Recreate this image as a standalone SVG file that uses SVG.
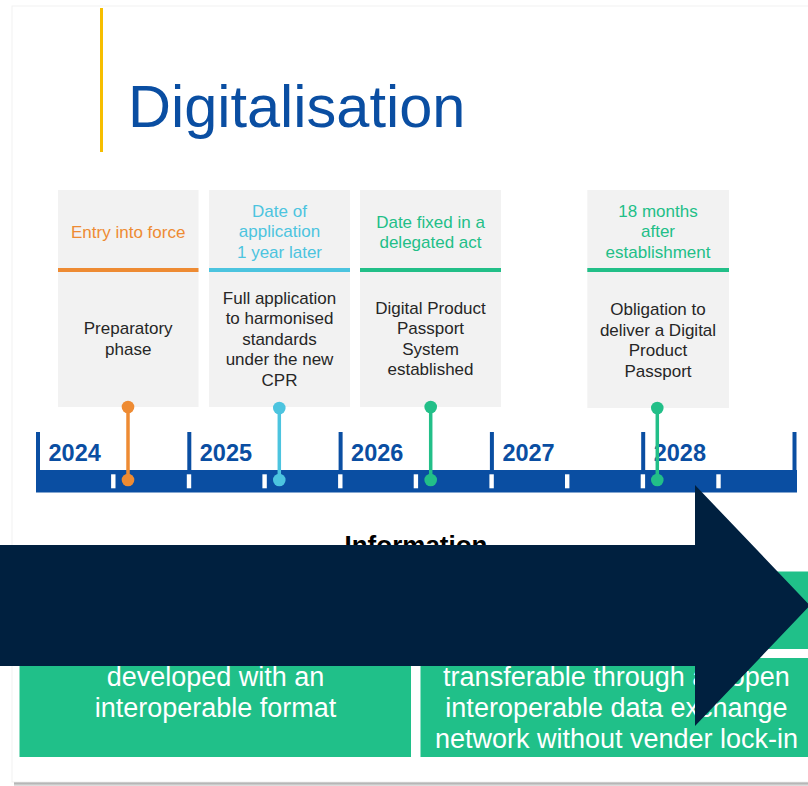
<svg xmlns="http://www.w3.org/2000/svg" width="808" height="786" viewBox="0 0 808 786">
<defs>
<linearGradient id="shadow" x1="0" y1="0" x2="0" y2="1">
<stop offset="0" stop-color="#9a9a9a"/>
<stop offset="1" stop-color="#e6e6e6"/>
</linearGradient>
<style>
text{font-family:"Liberation Sans",Arial,"Noto Sans",sans-serif;text-anchor:middle}
.box{fill:#f2f2f2}
.hd{font-size:17px}
.body{font-size:17px;fill:#262626}
.year{font-size:23.5px;font-weight:bold;fill:#0a4ea2;text-anchor:start}
.div{fill:#0a4ea2}
.tick{fill:#ffffff}
.orange{fill:#ee8b33}
.blue{fill:#4cc4df}
.green{fill:#22bf88}
.stem{stroke-width:3.5;fill:none}
.gbox{fill:#20c089}
.gtxt{font-size:27px;fill:#ffffff}
</style>
</defs>
<rect x="0" y="0" width="808" height="786" fill="#ffffff"/>
<rect x="14" y="782" width="800" height="4" fill="url(#shadow)"/>
<rect x="12" y="6" width="800" height="776" fill="#ffffff" stroke="#f1f1f1" stroke-width="1"/>

<g id="title">
<rect x="100" y="8" width="3" height="144" fill="#f6be00"/>
<text x="128" y="126.7" style="font-size:59.5px;fill:#0a4ea2;text-anchor:start">Digitalisation</text>
</g>

<g id="timeline">
<rect x="36" y="470" width="761" height="22.5" fill="#0a4ea2"/>
<rect class="div" x="36" y="432" width="4" height="40"/>
<rect class="div" x="187.3" y="432" width="4" height="40"/>
<rect class="div" x="338.6" y="432" width="4" height="40"/>
<rect class="div" x="489.9" y="432" width="4" height="40"/>
<rect class="div" x="641.2" y="432" width="4" height="40"/>
<rect class="div" x="792.5" y="432" width="4" height="40"/>
<rect class="tick" x="111.1" y="474.3" width="4.4" height="14"/>
<rect class="tick" x="186.8" y="474.3" width="4.4" height="14"/>
<rect class="tick" x="262.4" y="474.3" width="4.4" height="14"/>
<rect class="tick" x="338.1" y="474.3" width="4.4" height="14"/>
<rect class="tick" x="413.7" y="474.3" width="4.4" height="14"/>
<rect class="tick" x="489.4" y="474.3" width="4.4" height="14"/>
<rect class="tick" x="565" y="474.3" width="4.4" height="14"/>
<rect class="tick" x="640.7" y="474.3" width="4.4" height="14"/>
<rect class="tick" x="716.3" y="474.3" width="4.4" height="14"/>
<text class="year" x="48.5" y="461">2024</text>
<text class="year" x="199.8" y="461">2025</text>
<text class="year" x="351.1" y="461">2026</text>
<text class="year" x="502.4" y="461">2027</text>
<text class="year" x="653.7" y="461">2028</text>
</g>

<g id="node-entry">
<rect class="box" x="58" y="190" width="140.5" height="217"/>
<rect class="orange" x="58" y="268" width="140.5" height="4"/>
<text class="hd" x="128.2" y="237.5" fill="#ee8b33">Entry into force</text>
<text class="body" x="128.2" y="334">Preparatory</text>
<text class="body" x="128.2" y="354.5">phase</text>
</g>

<g id="node-application">
<rect class="box" x="209" y="190" width="141" height="217"/>
<rect class="blue" x="209" y="268" width="141" height="4"/>
<text class="hd" x="279.5" y="216.5" fill="#4cc4df">Date of</text>
<text class="hd" x="279.5" y="237" fill="#4cc4df">application</text>
<text class="hd" x="279.5" y="257.5" fill="#4cc4df">1 year later</text>
<text class="body" x="279.5" y="303.5">Full application</text>
<text class="body" x="279.5" y="324">to harmonised</text>
<text class="body" x="279.5" y="344.5">standards</text>
<text class="body" x="279.5" y="365">under the new</text>
<text class="body" x="279.5" y="385.5">CPR</text>
</g>

<g id="node-delegated">
<rect class="box" x="360" y="190" width="141" height="217"/>
<rect class="green" x="360" y="268" width="141" height="4"/>
<text class="hd" x="430.5" y="227.5" fill="#22bf88">Date fixed in a</text>
<text class="hd" x="430.5" y="247.5" fill="#22bf88">delegated act</text>
<text class="body" x="430.5" y="313.5">Digital Product</text>
<text class="body" x="430.5" y="334">Passport</text>
<text class="body" x="430.5" y="354.5">System</text>
<text class="body" x="430.5" y="375">established</text>
</g>

<g id="node-obligation">
<rect class="box" x="587.3" y="190" width="141.7" height="218"/>
<rect class="green" x="587.3" y="268" width="141.7" height="4"/>
<text class="hd" x="658" y="216.5" fill="#22bf88">18 months</text>
<text class="hd" x="658" y="237" fill="#22bf88">after</text>
<text class="hd" x="658" y="257.5" fill="#22bf88">establishment</text>
<text class="body" x="658" y="315">Obligation to</text>
<text class="body" x="658" y="335.5">deliver a Digital</text>
<text class="body" x="658" y="356">Product</text>
<text class="body" x="658" y="376.5">Passport</text>
</g>

<g id="connectors">
<line class="stem" x1="128" y1="407" x2="128" y2="480" stroke="#ee8b33"/>
<circle cx="128" cy="407" r="6.3" fill="#ee8b33"/>
<circle cx="128" cy="480" r="6.3" fill="#ee8b33"/>
<line class="stem" x1="279.3" y1="408" x2="279.3" y2="480" stroke="#4cc4df"/>
<circle cx="279.3" cy="408" r="6.3" fill="#4cc4df"/>
<circle cx="279.3" cy="480" r="6.3" fill="#4cc4df"/>
<line class="stem" x1="430.7" y1="407" x2="430.7" y2="480" stroke="#22bf88"/>
<circle cx="430.7" cy="407" r="6.3" fill="#22bf88"/>
<circle cx="430.7" cy="480" r="6.3" fill="#22bf88"/>
<line class="stem" x1="657.3" y1="408" x2="657.3" y2="480" stroke="#22bf88"/>
<circle cx="657.3" cy="408" r="6.3" fill="#22bf88"/>
<circle cx="657.3" cy="480" r="6.3" fill="#22bf88"/>
</g>

<g id="information">
<text x="416" y="554" style="font-size:26px;font-weight:bold;fill:#000000">Information</text>
</g>

<g id="box-left">
<rect class="gbox" x="19.5" y="571.5" width="391.5" height="185.5"/>
<text class="gtxt" x="215.5" y="686">developed with an</text>
<text class="gtxt" x="215.5" y="717">interoperable format</text>
</g>

<g id="box-right-top">
<rect class="gbox" x="420.5" y="571.5" width="392" height="77.5"/>
</g>

<g id="box-right-bottom">
<rect class="gbox" x="420.5" y="658" width="392" height="99"/>
<text class="gtxt" x="616.5" y="686">transferable through an open</text>
<text class="gtxt" x="616.5" y="717">interoperable data exchange</text>
<text class="gtxt" x="616.5" y="748">network without vender lock-in</text>
</g>

<g id="arrow">
<polygon points="0,545 695,545 695,485 810,605.5 695,726 695,666 0,666" fill="#00203f"/>
</g>
</svg>
